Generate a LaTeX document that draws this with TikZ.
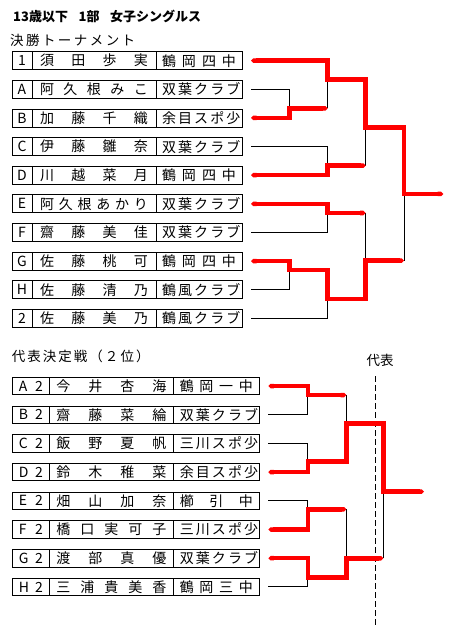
\documentclass[tikz,border=0pt]{standalone}
\usepackage{fontspec}
\setmainfont{Noto Sans CJK JP}
\usetikzlibrary{positioning,arrows.meta}
\newcommand{\spreadtxt}[2]{\makebox[#1][s]{#2}}
\tikzset{
  cell/.style={draw,line width=0.9pt,inner sep=0pt,outer sep=0pt,
               font=\fontsize{14}{14}\selectfont},
  topcode/.style={cell,minimum width=20pt,minimum height=18pt},
  topname/.style={cell,minimum width=124pt,minimum height=18pt},
  topclub/.style={cell,minimum width=86pt,minimum height=18pt},
  repcode/.style={cell,minimum width=37pt,minimum height=17.5pt},
  repname/.style={cell,minimum width=124pt,minimum height=17.5pt},
  repclub/.style={cell,minimum width=86pt,minimum height=17.5pt},
  heading/.style={font=\fontsize{13.5}{13.5}\selectfont,inner sep=0pt},
  lose/.style={draw=black,line width=1pt},
  win/.style={draw=red,line width=4.5pt,{Triangle Cap}-{Triangle Cap}},
  repline/.style={draw=black,line width=1pt,dash pattern=on 6pt off 3pt},
}

\begin{document}
\begin{tikzpicture}[x=1pt,y=-1pt]
  \useasboundingbox (0,0) rectangle (449,628);
  % headings
  \node[heading,font=\fontsize{13}{13}\selectfont\bfseries,anchor=west] (title) at (13,16)
    {\spreadtxt{188pt}{13歳以下\hspace{0.4em plus 1fil}1部\hspace{0.4em plus 1fil}女子シングルス}};
  \node[heading,anchor=west] (finals) at (10,40) {\spreadtxt{125pt}{決 勝 ト ー ナ メ ン ト}};
  \node[heading,anchor=west] (second) at (11.7,356.7) {\spreadtxt{121pt}{代 表 決 定 戦 （ ２ 位 ）}};
  \node[heading] (rep) at (380,360.7) {代表};

  % final tournament entries
  \foreach \ent/\pname/\club [count=\i from 0] in {
      1/須 田 歩 実/鶴 岡 四 中,
      A/阿 久 根 み こ/双 葉 ク ラ ブ,
      B/加 藤 千 織/余 目 ス ポ 少,
      C/伊 藤 雛 奈/双 葉 ク ラ ブ,
      D/川 越 菜 月/鶴 岡 四 中,
      E/阿 久 根 あ か り/双 葉 ク ラ ブ,
      F/齋 藤 美 佳/双 葉 ク ラ ブ,
      G/佐 藤 桃 可/鶴 岡 四 中,
      H/佐 藤 清 乃/鶴 風 ク ラ ブ,
      2/佐 藤 美 乃/鶴 風 ク ラ ブ}{
    \node[topcode,anchor=west] (c\i) at (12,{60.7+28.63*\i}) {\ent};
    \node[topname,right=0pt of c\i] (n\i) {\spreadtxt{108pt}{\pname}};
    \node[topclub,right=0pt of n\i] (k\i) {\spreadtxt{74pt}{\club}};
    \coordinate (s\i) at ([xshift=9pt]k\i.east);
  }

  % representative playoff entries
  \foreach \ent/\pname/\club [count=\i from 0] in {
      A 2/今 井 杏 海/鶴 岡 一 中,
      B 2/齋 藤 菜 綸/双 葉 ク ラ ブ,
      C 2/飯 野 夏 帆/三 川 ス ポ 少,
      D 2/鈴 木 稚 菜/余 目 ス ポ 少,
      E 2/畑 山 加 奈/櫛 引 中,
      F 2/橋 口 実 可 子/三 川 ス ポ 少,
      G 2/渡 部 真 優/双 葉 ク ラ ブ,
      H 2/三 浦 貴 美 香/鶴 岡 三 中}{
    \node[repcode,anchor=west] (rc\i) at (12.3,{386+28.7*\i}) {\spreadtxt{24pt}{\ent}};
    \node[repname,right=0pt of rc\i] (rn\i) {\spreadtxt{110pt}{\pname}};
    \node[repclub,right=0pt of rn\i] (rk\i) {\spreadtxt{73pt}{\club}};
    \coordinate (rs\i) at ([xshift=9pt]rk\i.east);
  }

  % final tournament bracket
  \coordinate (jab) at (289.3,108.3);
  \coordinate (jgh) at (289.3,270);
  \coordinate (j1ab) at (327.7,79.3);
  \coordinate (jcd) at (327.7,165.7);
  \coordinate (jef) at (327.7,213);
  \coordinate (jgh2) at (327.7,299);
  \coordinate (jtop) at (365.7,127.3);
  \coordinate (jbot) at (365.7,260.7);
  \coordinate (jfin) at (404,194);
  \coordinate (champ) at (443.3,194);

  \draw[lose] (s1) -| (jab);
  \draw[lose] (j1ab) -- (jab -| j1ab);
  \draw[lose] (s3) -| (jcd);
  \draw[lose] (jtop) -- (jcd -| jtop);
  \draw[lose] (s6) -| (jef);
  \draw[lose] (jef -| jtop) -- (jbot);
  \draw[lose] (s8) -| (jgh);
  \draw[lose] (s9) -| (jgh2);
  \draw[lose] (jfin) -- (jbot -| jfin);

  \draw[win] (s0) -| (j1ab) -| (jtop) -| (jfin) -- (champ);
  \draw[win] (s2) -| (jab) -- (jab -| j1ab);
  \draw[win] (s4) -| (jcd) -- (jcd -| jtop);
  \draw[win] (s5) -| (jef) -- (jef -| jtop);
  \draw[win] (s7) -| (jgh) -| (jgh2) -| (jbot) -- (jbot -| jfin);

  % representative bracket
  \coordinate (qab) at (307.8,395);
  \coordinate (qcd) at (307.8,461.7);
  \coordinate (qef) at (307.8,509.3);
  \coordinate (qgh) at (307.8,577.3);
  \coordinate (qtop) at (346.3,423.3);
  \coordinate (qbot) at (346.3,558.3);
  \coordinate (qfin) at (383.3,491.7);
  \coordinate (qend) at (424,491.7);
  \coordinate (reptop) at (375.3,376);
  \coordinate (repbot) at (375.3,628);

  \draw[repline] (reptop) -- (repbot);

  \draw[lose] (rs1) -| (qab);
  \draw[lose] (qab -| qtop) -- (qtop);
  \draw[lose] (rs2) -| (qcd);
  \draw[lose] (rs4) -| (qef);
  \draw[lose] (qef -| qbot) -- (qbot);
  \draw[lose] (rs7) -| (qgh);
  \draw[lose] (qfin) -- (qbot -| qfin);

  \draw[win] (rs0) -| (qab) -- (qab -| qtop);
  \draw[win] (rs3) -| (qcd) -| (qtop) -| (qfin) -- (qend);
  \draw[win] (rs5) -| (qef) -- (qef -| qbot);
  \draw[win] (rs6) -| (qgh) -| (qbot) -- (qbot -| qfin);
\end{tikzpicture}
\end{document}
